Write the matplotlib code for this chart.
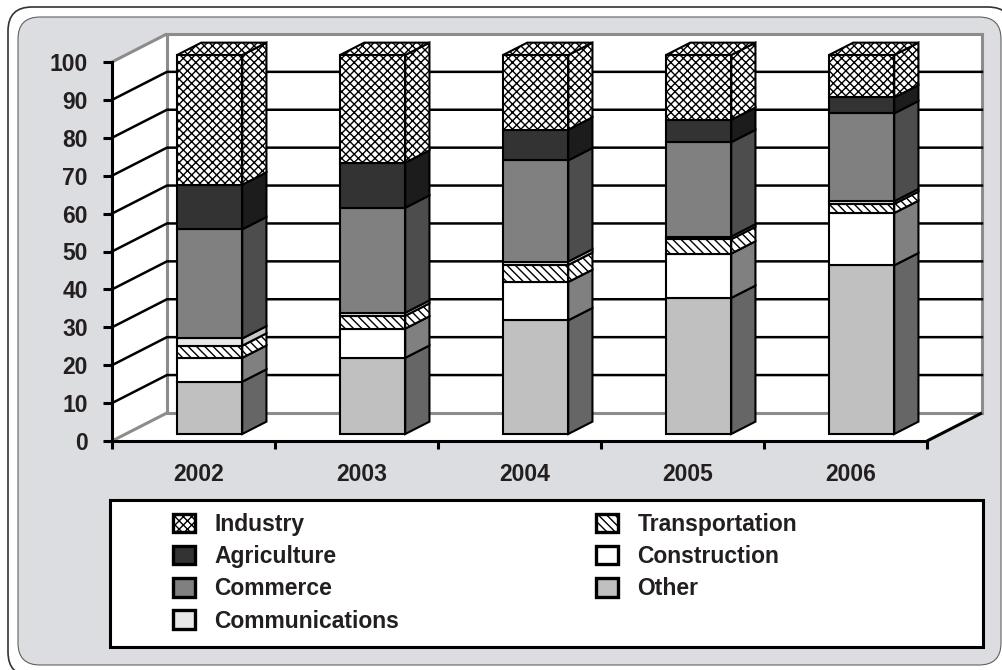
import matplotlib
matplotlib.use("Agg")
import matplotlib.pyplot as plt
from matplotlib.patches import Polygon, Patch, FancyBboxPatch, Rectangle

# shares per year (percent), stacked bottom -> top
years = ["2002", "2003", "2004", "2005", "2006"]
other = [13.8, 20.1, 30.0, 35.9, 44.5]
construction = [6.3, 7.7, 10.1, 11.7, 13.8]
transportation = [3.2, 3.4, 4.5, 3.8, 2.4]
communications = [1.9, 0.8, 0.9, 0.7, 0.7]
commerce = [28.8, 27.7, 26.7, 24.9, 23.2]
agriculture = [11.8, 11.9, 8.1, 5.9, 4.2]
industry = [34.2, 28.4, 19.7, 17.1, 11.2]

stack_names = ["Other", "Construction", "Transportation", "Communications",
               "Commerce", "Agriculture", "Industry"]
stack_values = [other, construction, transportation, communications,
                commerce, agriculture, industry]
legend_order = ["Industry", "Agriculture", "Commerce", "Communications",
                "Transportation", "Construction", "Other"]

# front colour, side colour, hatch
style = {
    "Other": ("#c0c0c0", "#666666", None),
    "Construction": ("#ffffff", "#808080", None),
    "Transportation": ("#ffffff", "#ffffff", "\\\\\\\\"),
    "Communications": ("#e8e8e8", "#c8c8c8", None),
    "Commerce": ("#808080", "#4d4d4d", None),
    "Agriculture": ("#333333", "#1c1c1c", None),
    "Industry": ("#ffffff", "#ffffff", "xxxx"),
}

plt.rcParams['font.family'] = ['Liberation Sans', 'DejaVu Sans']
plt.rcParams['font.weight'] = 'bold'
plt.rcParams['hatch.linewidth'] = 1.0
txt_col = "#231f20"

W, H = 1002, 670
fig = plt.figure(figsize=(W / 100, H / 100), dpi=100)
fig.patch.set_facecolor("white")

# background frame (pixel coords)
bg = fig.add_axes([0, 0, 1, 1])
bg.set_xlim(0, W)
bg.set_ylim(H, 0)
bg.axis("off")
bg.add_patch(FancyBboxPatch((8, 7), 1004, 669, boxstyle="round,pad=0,rounding_size=24",
                            fc="white", ec="#333333", lw=1.2))
bg.add_patch(FancyBboxPatch((18, 17), 983, 648, boxstyle="round,pad=0,rounding_size=22",
                            fc="#dcdde0", ec="#606060", lw=0.8))
bg.add_patch(Rectangle((110, 500), 873, 147, fc="white", ec="black", lw=2.2))

# main axes = front plane of the 3d box
ax = fig.add_axes([112 / W, (H - 441) / H, 815 / W, 379 / H])
ax.set_xlim(0, 5)
ax.set_ylim(0, 100)
ax.patch.set_visible(False)

DX, DY = 0.337, 7.4      # full depth offset in data units
D0, D1 = 0.25, 0.69      # bar depth range
BW = 0.40


def P(x, v, d):
    return (x + d * DX, v + d * DY)


def face(pts, fc, hatch=None, ec="black", lw=1.5, z=3):
    ax.add_patch(Polygon(pts, closed=True, fc=fc, ec=ec, lw=lw, hatch=hatch,
                         zorder=z, clip_on=False, joinstyle="miter"))


def seg(a, b, color, lw, z=2):
    ax.plot([a[0], b[0]], [a[1], b[1]], color=color, lw=lw, zorder=z,
            clip_on=False, solid_capstyle="butt")


n = len(years)
# walls and floor
face([P(0, 0, 0), P(0, 100, 0), P(0, 100, 1), P(0, 0, 1)], "white", ec="none", z=1)
face([P(0, 0, 0), P(n, 0, 0), P(n, 0, 1), P(0, 0, 1)], "white", ec="none", z=1)
face([P(0, 0, 1), P(n, 0, 1), P(n, 100, 1), P(0, 100, 1)], "white", ec="#8c8c8c", lw=2.2, z=1)
seg(P(0, 100, 0), P(0, 100, 1), "#8c8c8c", 2.2)
seg(P(0, 0, 0), P(0, 0, 1), "#8c8c8c", 2.2)
seg(P(n, 0, 0), P(n, 0, 1), "black", 2.2)

for v in range(10, 100, 10):
    ax.plot([P(0, v, 0)[0], P(0, v, 1)[0], P(n, v, 1)[0]],
            [P(0, v, 0)[1], P(0, v, 1)[1], P(n, v, 1)[1]],
            color="black", lw=1.8, zorder=2, clip_on=False)

# stacked 3d bars
for i in range(n):
    xl = i + 0.315
    xr = xl + BW
    base = 0
    for k, name in enumerate(stack_names):
        val = stack_values[k][i]
        top = base + val
        fc, sc, hatch = style[name]
        face([P(xl, base, D0), P(xr, base, D0), P(xr, top, D0), P(xl, top, D0)], fc, hatch)
        face([P(xr, base, D0), P(xr, base, D1), P(xr, top, D1), P(xr, top, D0)], sc, hatch)
        if k == len(stack_names) - 1:
            face([P(xl, top, D0), P(xr, top, D0), P(xr, top, D1), P(xl, top, D1)], fc, hatch)
        base = top

# axes lines and ticks
for s in ["top", "right"]:
    ax.spines[s].set_visible(False)
for s in ["left", "bottom"]:
    ax.spines[s].set_linewidth(2.2)
    ax.spines[s].set_zorder(4)
ax.set_yticks(range(0, 101, 10))
ax.tick_params(axis="y", length=6.5, width=2.2, pad=11, labelsize=16.5, labelcolor=txt_col)
ax.set_xticks(range(n + 1))
ax.set_xticklabels([])
ax.tick_params(axis="x", which="major", length=6, width=2.2)
ax.set_xticks([i + 0.53 for i in range(n)], minor=True)
ax.set_xticklabels(years, minor=True)
ax.tick_params(axis="x", which="minor", length=0, pad=16, labelsize=16.5, labelcolor=txt_col)

# legend
handles = []
for name in legend_order:
    fc, sc, hatch = style[name]
    handles.append(Patch(fc=fc, ec="black", lw=2.4, hatch=hatch, label=name))
leg = fig.legend(handles=handles, ncol=2, loc="upper left",
                 bbox_to_anchor=(173 / W, 1 - 513 / H), frameon=False,
                 fontsize=16.5, handlelength=0.95, handleheight=0.85,
                 handletextpad=0.85, labelspacing=0.4, columnspacing=8.6,
                 borderpad=0, borderaxespad=0)
for t in leg.get_texts():
    t.set_color(txt_col)

fig.savefig("out.png", dpi=100)
